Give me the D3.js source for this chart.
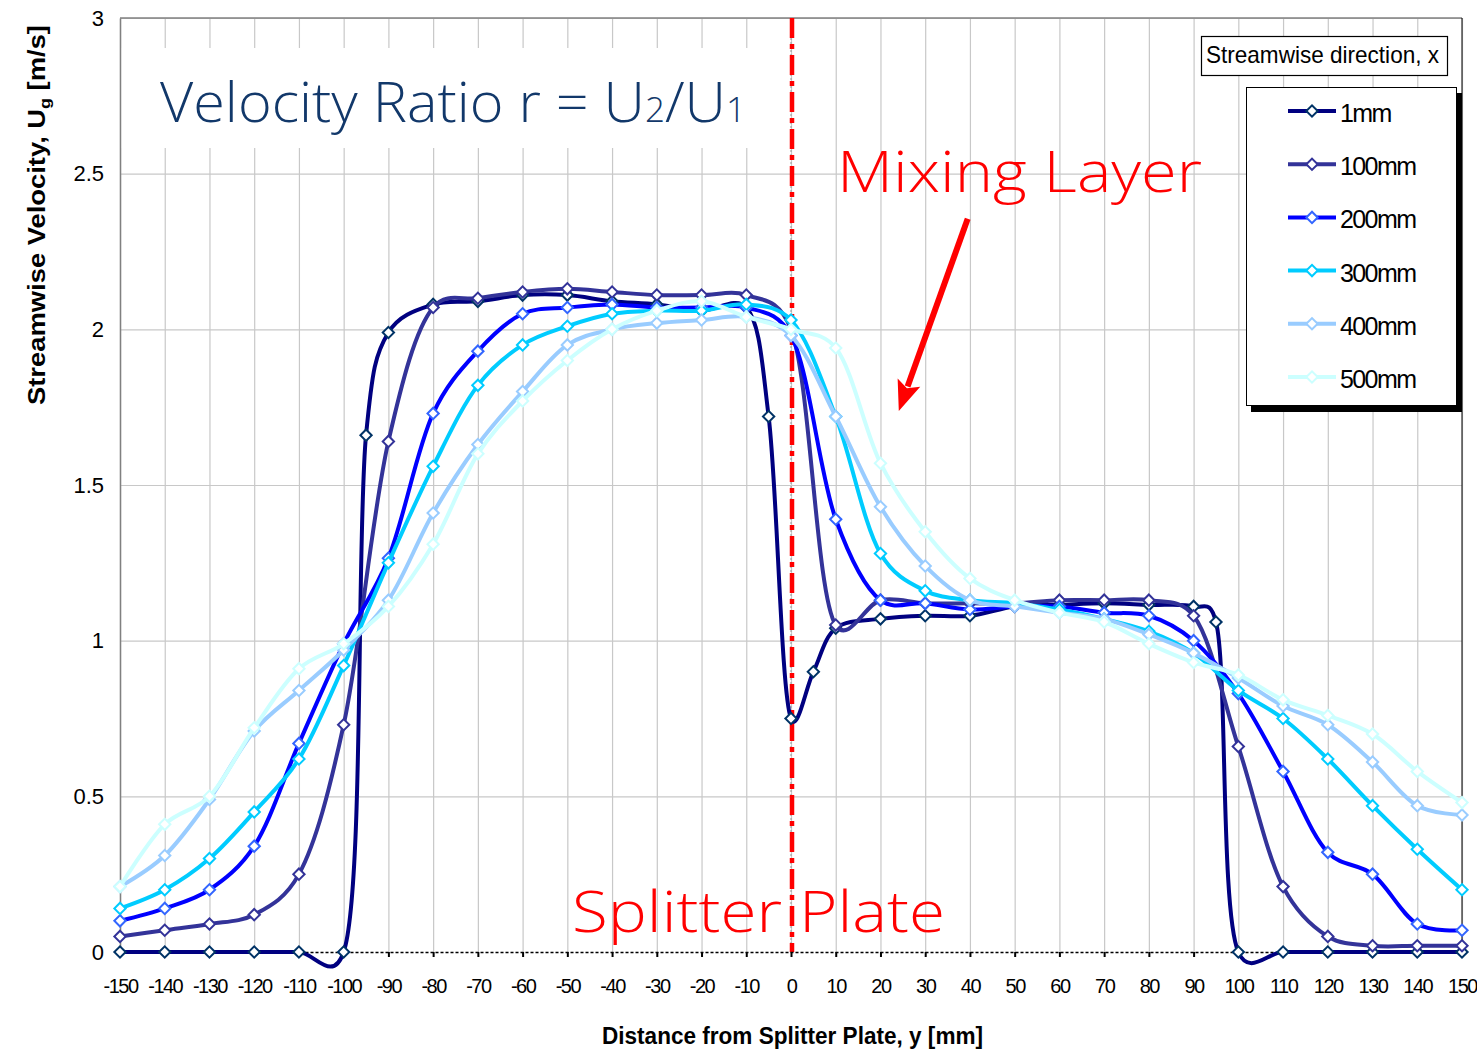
<!DOCTYPE html>
<html lang="en">
<head>
    <meta charset="UTF-8">
    <title>Streamwise Velocity Profiles</title>
    <script src="https://d3js.org/d3.v7.min.js"></script>
    <style>
        body {
            margin: 0;
            background: #fff;
            font-family: "Liberation Sans", Arial, sans-serif;
        }
        .grid line {
            stroke: #c8c8c8;
            stroke-width: 1.2px;
        }
        .grid .domain {
            display: none;
        }
        .tick text {
            fill: #000;
        }
        .series path.line {
            fill: none;
            stroke-width: 4px;
        }
    </style>
</head>
<body>
    <div id="chart"></div>

    <script>
        // distance from splitter plate (mm)
        const yPos1mm = [-150, -140, -130, -120, -110, -100, -95, -90, -80, -70, -60, -50, -40, -30, -20, -10, -5, 0, 5, 10,
            20, 30, 40, 50, 60, 70, 80, 90, 95, 100, 110, 120, 130, 140, 150];
        const yPos = [-150, -140, -130, -120, -110, -100, -90, -80, -70, -60, -50, -40, -30, -20, -10, 0,
            10, 20, 30, 40, 50, 60, 70, 80, 90, 100, 110, 120, 130, 140, 150];

        // streamwise velocity (m/s)
        const u1mm = [0, 0, 0, 0, 0, 0, 1.66, 1.99, 2.08, 2.09, 2.11, 2.11, 2.09, 2.08, 2.06, 2.07, 1.72, 0.75, 0.90, 1.04,
            1.07, 1.08, 1.08, 1.11, 1.115, 1.12, 1.115, 1.11, 1.06, 0, 0, 0, 0, 0, 0];
        const u100mm = [0.05, 0.07, 0.09, 0.12, 0.25, 0.73, 1.64, 2.07, 2.10, 2.12, 2.13, 2.12, 2.11, 2.11, 2.11, 2.00,
            1.05, 1.13, 1.12, 1.12, 1.12, 1.13, 1.13, 1.13, 1.08, 0.66, 0.21, 0.05, 0.02, 0.02, 0.02];
        const u200mm = [0.10, 0.14, 0.20, 0.34, 0.67, 0.99, 1.265, 1.73, 1.93, 2.05, 2.07, 2.08, 2.07, 2.07, 2.07, 1.98,
            1.39, 1.13, 1.12, 1.10, 1.11, 1.11, 1.09, 1.08, 1.00, 0.83, 0.58, 0.32, 0.25, 0.09, 0.07];
        const u300mm = [0.14, 0.20, 0.30, 0.45, 0.62, 0.92, 1.25, 1.56, 1.82, 1.95, 2.01, 2.05, 2.06, 2.06, 2.08, 2.03,
            1.72, 1.28, 1.16, 1.13, 1.12, 1.10, 1.07, 1.03, 0.96, 0.84, 0.75, 0.62, 0.47, 0.33, 0.20];
        const u400mm = [0.21, 0.31, 0.49, 0.71, 0.84, 0.97, 1.13, 1.41, 1.63, 1.80, 1.95, 2.00, 2.02, 2.03, 2.04, 1.98,
            1.72, 1.43, 1.24, 1.13, 1.11, 1.09, 1.07, 1.02, 0.96, 0.88, 0.79, 0.73, 0.61, 0.47, 0.44];
        const u500mm = [0.21, 0.41, 0.50, 0.72, 0.91, 0.99, 1.11, 1.31, 1.60, 1.77, 1.90, 2.00, 2.06, 2.09, 2.04, 2.00,
            1.94, 1.57, 1.35, 1.20, 1.13, 1.09, 1.06, 0.99, 0.93, 0.89, 0.81, 0.76, 0.70, 0.58, 0.48];

        const seriesNames = ["1mm", "100mm", "200mm", "300mm", "400mm", "500mm"];
        const lineColors = ["#000080", "#333399", "#0000ff", "#00ccff", "#99ccff", "#ccffff"];
        const markerColors = ["#003366", "#333399", "#3366ff", "#00ccff", "#99ccff", "#ccffff"];

        const xTicks = d3.range(-150, 151, 10);
        const xTickLabels = xTicks.map(String);
        const yTicks = [0, 0.5, 1, 1.5, 2, 2.5, 3];
        const yTickLabels = ["0", "0.5", "1", "1.5", "2", "2.5", "3"];

        const series = [
            { name: seriesNames[0], xs: yPos1mm, us: u1mm },
            { name: seriesNames[1], xs: yPos, us: u100mm },
            { name: seriesNames[2], xs: yPos, us: u200mm },
            { name: seriesNames[3], xs: yPos, us: u300mm },
            { name: seriesNames[4], xs: yPos, us: u400mm },
            { name: seriesNames[5], xs: yPos, us: u500mm }
        ].map((s, i) => ({
            name: s.name, line: lineColors[i], marker: markerColors[i],
            values: s.xs.map((v, j) => [v, s.us[j]])
        }));

        const width = 1477;
        const height = 1051;
        const plotL = 120, plotR = 1462, plotT = 18, plotB = 952;

        const x = d3.scaleLinear().domain([-150, 150]).range([plotL, plotR]);
        const y = d3.scaleLinear().domain([0, 3]).range([plotB, plotT]);

        const svg = d3.select("#chart")
            .append("svg")
            .attr("width", width)
            .attr("height", height);

        // gridlines
        svg.append("g")
            .attr("class", "grid")
            .attr("transform", `translate(0,${plotB})`)
            .call(d3.axisBottom(x).tickValues(xTicks).tickSize(-(plotB - plotT)).tickFormat(""));
        svg.append("g")
            .attr("class", "grid")
            .attr("transform", `translate(${plotL},0)`)
            .call(d3.axisLeft(y).tickValues(yTicks.slice(1)).tickSize(-(plotR - plotL)).tickFormat(""));

        // white box behind the ratio caption
        svg.append("rect")
            .attr("x", plotL + 1).attr("y", 48)
            .attr("width", x(-2) - plotL - 1).attr("height", 100)
            .attr("fill", "#fff");

        // plot frame
        svg.append("line").attr("x1", plotL).attr("x2", plotR).attr("y1", plotT).attr("y2", plotT)
            .attr("stroke", "#808080").attr("stroke-width", 1.5);
        svg.append("line").attr("x1", plotR).attr("x2", plotR).attr("y1", plotT).attr("y2", plotB)
            .attr("stroke", "#000").attr("stroke-width", 1);

        // splitter plate line
        svg.append("line")
            .attr("x1", x(0)).attr("x2", x(0)).attr("y1", plotT).attr("y2", plotB)
            .attr("stroke", "#999").attr("stroke-width", 1).attr("stroke-dasharray", "2,2");
        svg.append("line")
            .attr("x1", x(0) + 1).attr("x2", x(0) + 1).attr("y1", plotT).attr("y2", plotB)
            .attr("stroke", "#ff0000").attr("stroke-width", 4.5).attr("stroke-dasharray", "20,6,5,6");

        // y axis
        const yAxis = svg.append("g")
            .attr("transform", `translate(${plotL},0)`)
            .call(d3.axisLeft(y).tickValues(yTicks).tickSize(0).tickPadding(16)
                .tickFormat((d, i) => yTickLabels[i]));
        yAxis.select(".domain").attr("stroke", "#808080").attr("stroke-width", 1.5);
        yAxis.selectAll("text")
            .style("font-family", "Liberation Sans, Arial, sans-serif")
            .style("font-size", "22px");

        // x axis
        const xAxis = svg.append("g")
            .attr("transform", `translate(0,${plotB})`)
            .call(d3.axisBottom(x).tickValues(xTicks).tickSize(5).tickSizeOuter(0).tickPadding(22)
                .tickFormat((d, i) => xTickLabels[i]));
        xAxis.select(".domain").attr("stroke", "#000").attr("stroke-width", 1.5).attr("stroke-dasharray", "3,2");
        xAxis.selectAll(".tick line").attr("stroke", "#000").attr("stroke-width", 2);
        xAxis.selectAll("text")
            .style("font-family", "Liberation Sans, Arial, sans-serif")
            .style("font-size", "20px")
            .style("letter-spacing", "-1.5px");

        // series (smoothed like the spreadsheet lines)
        const line = d3.line()
            .x(d => x(d[0]))
            .y(d => y(d[1]))
            .curve(d3.curveCatmullRom.alpha(0.25));
        const diamond = d3.symbol().type(d3.symbolSquare).size(64);

        const sg = svg.selectAll(".series")
            .data(series)
            .enter()
            .append("g")
            .attr("class", "series");

        sg.append("path")
            .attr("class", "line")
            .attr("stroke", d => d.line)
            .attr("d", d => line(d.values));

        sg.each(function (s) {
            d3.select(this).selectAll(".pt")
                .data(s.values)
                .enter()
                .append("path")
                .attr("class", "pt")
                .attr("d", diamond)
                .attr("transform", d => `translate(${x(d[0])},${y(d[1])}) rotate(45)`)
                .attr("fill", "#fff")
                .attr("stroke", s.marker)
                .attr("stroke-width", 2);
        });

        // annotations
        svg.append("text")
            .attr("x", 160).attr("y", 122)
            .attr("fill", "#12386a")
            .style("font-family", "Open Sans, sans-serif")
            .style("font-weight", 300)
            .style("font-size", "56px")
            .attr("textLength", 586)
            .attr("lengthAdjust", "spacingAndGlyphs")
            .call(t => {
                t.append("tspan").text("Velocity Ratio r  =  U");
                t.append("tspan").style("font-size", "34px").text("2");
                t.append("tspan").text("/U");
                t.append("tspan").style("font-size", "34px").text("1");
            });

        svg.append("text")
            .attr("x", 837).attr("y", 192)
            .attr("fill", "#ff0000")
            .style("font-family", "Open Sans, sans-serif")
            .style("font-weight", 300)
            .style("font-size", "57px")
            .attr("textLength", 365)
            .attr("lengthAdjust", "spacingAndGlyphs")
            .text("Mixing Layer");

        svg.append("text")
            .attr("x", 572).attr("y", 932)
            .attr("fill", "#ff0000")
            .style("font-family", "Open Sans, sans-serif")
            .style("font-weight", 300)
            .style("font-size", "57px")
            .attr("textLength", 373)
            .attr("lengthAdjust", "spacingAndGlyphs")
            .text("Splitter Plate");

        // arrow pointing at the mixing layer
        const arrowFrom = [39.5, 2.355];
        const arrowTo = [24.1, 1.738];
        const ax0 = x(arrowFrom[0]), ay0 = y(arrowFrom[1]);
        const ax1 = x(arrowTo[0]), ay1 = y(arrowTo[1]);
        const len = Math.hypot(ax1 - ax0, ay1 - ay0);
        const ux = (ax1 - ax0) / len, uy = (ay1 - ay0) / len;
        const headLen = 30, headW = 12;
        const bx = ax1 - ux * headLen, by = ay1 - uy * headLen;
        svg.append("line")
            .attr("x1", ax0).attr("y1", ay0)
            .attr("x2", bx + ux * 4).attr("y2", by + uy * 4)
            .attr("stroke", "#ff0000").attr("stroke-width", 6);
        svg.append("path")
            .attr("d", `M${ax1},${ay1}L${bx - uy * headW},${by + ux * headW}L${bx + ux * 6},${by + uy * 6}L${bx + uy * headW},${by - ux * headW}Z`)
            .attr("fill", "#ff0000");

        // axis titles
        svg.append("text")
            .attr("transform", "translate(45,215) rotate(-90)")
            .attr("text-anchor", "middle")
            .style("font-family", "Liberation Sans, Arial, sans-serif")
            .style("font-weight", "bold")
            .style("font-size", "23px")
            .attr("textLength", 380)
            .attr("lengthAdjust", "spacingAndGlyphs")
            .call(t => {
                t.append("tspan").text("Streamwise Velocity, U");
                t.append("tspan").style("font-size", "15px").attr("dy", 5).text("g");
                t.append("tspan").attr("dy", -5).text(" [m/s]");
            });

        svg.append("text")
            .attr("x", 602).attr("y", 1044)
            .style("font-family", "Liberation Sans, Arial, sans-serif")
            .style("font-weight", "bold")
            .style("font-size", "23px")
            .attr("textLength", 381)
            .attr("lengthAdjust", "spacingAndGlyphs")
            .text("Distance from Splitter Plate, y [mm]");

        // legend title
        svg.append("rect")
            .attr("x", 1201.5).attr("y", 36.5).attr("width", 246).attr("height", 39)
            .attr("fill", "#fff").attr("stroke", "#000").attr("stroke-width", 1.2);
        svg.append("text")
            .attr("x", 1206).attr("y", 63)
            .style("font-size", "24px")
            .attr("textLength", 233)
            .attr("lengthAdjust", "spacingAndGlyphs")
            .text("Streamwise direction, x");

        // legend
        const lg = svg.append("g").attr("transform", "translate(1246,87)");
        lg.append("rect").attr("x", 5).attr("y", 6).attr("width", 211).attr("height", 319).attr("fill", "#000");
        lg.append("rect").attr("x", 0.5).attr("y", 0.5).attr("width", 210).attr("height", 318)
            .attr("fill", "#fff").attr("stroke", "#000").attr("stroke-width", 1);

        const item = lg.selectAll(".item")
            .data(series)
            .enter()
            .append("g")
            .attr("class", "item")
            .attr("transform", (d, i) => `translate(0,${24 + i * 53.2})`);
        item.append("line")
            .attr("x1", 42).attr("x2", 90)
            .attr("stroke", d => d.line).attr("stroke-width", 4);
        item.append("path")
            .attr("d", diamond)
            .attr("transform", "translate(66,0) rotate(45)")
            .attr("fill", "#fff")
            .attr("stroke", d => d.marker)
            .attr("stroke-width", 2);
        item.append("text")
            .attr("x", 94).attr("y", 11)
            .style("font-size", "25px")
            .style("letter-spacing", "-1.6px")
            .text(d => d.name);
    </script>
</body>
</html>
